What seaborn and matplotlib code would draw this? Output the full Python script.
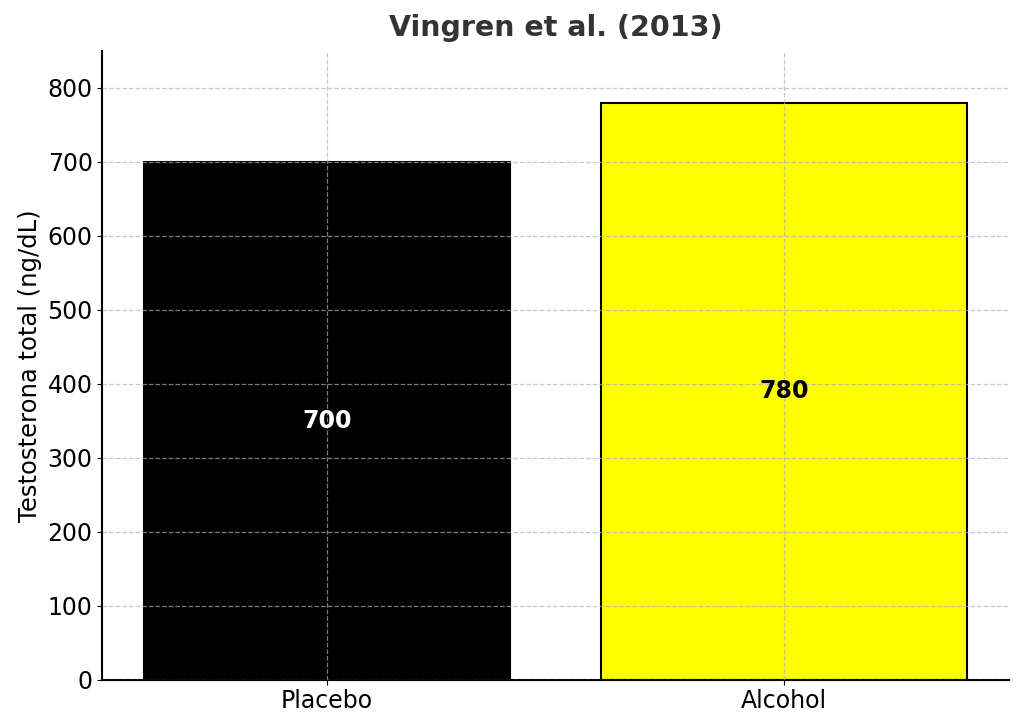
import pandas as pd
import seaborn as sns
from matplotlib import pyplot as plt

groups = ["Placebo", "Alcohol"]
testosterone = [700, 780]
bar_colors = ["black", "yellow"]
text_colors = ["white", "black"]

df = pd.DataFrame({"grupo": groups, "valor": testosterone})

sns.set_style("ticks")
plt.rcParams['font.family'] = ['DejaVu Sans']

fig, ax = plt.subplots(figsize=(10.24, 7.27), dpi=100)
sns.barplot(data=df, x="grupo", y="valor", hue="grupo", palette=bar_colors,
            edgecolor="black", linewidth=1.5, width=0.8, saturation=1,
            legend=False, ax=ax)

# value labels in the middle of each bar
for i, v in enumerate(testosterone):
    ax.text(i, v / 2, str(v), ha="center", va="center", fontsize=17,
            fontweight="bold", color=text_colors[i])

ax.set_xlim(-0.49, 1.49)
ax.set_ylim(0, 850)
ax.set_axisbelow(False)
ax.grid(True, linestyle="--", color="#b0b0b0", alpha=0.7, linewidth=0.9)
ax.set_xlabel("")
ax.set_ylabel("Testosterona total (ng/dL)", fontsize=17.5, color="black")
ax.set_title("Vingren et al. (2013)", fontsize=20.5, fontweight="bold",
             color="#333333", pad=11)
ax.tick_params(axis="both", labelsize=17, colors="black")
for s in ["left", "bottom"]:
    ax.spines[s].set_linewidth(1.5)
    ax.spines[s].set_color("black")
sns.despine(ax=ax)

fig.subplots_adjust(left=0.1, right=0.985, top=0.93, bottom=0.065)
plt.savefig("out.png")
